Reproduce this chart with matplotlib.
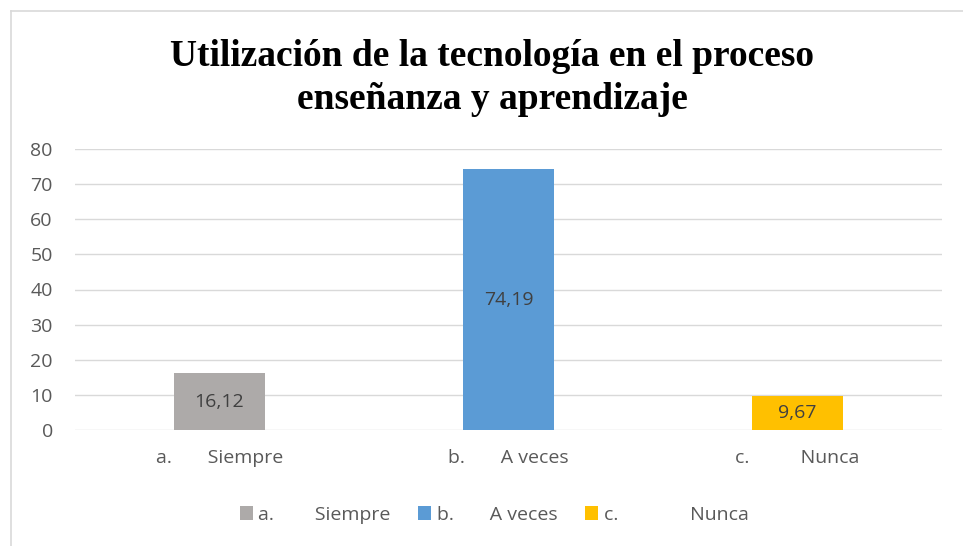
import matplotlib
matplotlib.use("Agg")
import matplotlib.pyplot as plt
from matplotlib.patches import Patch
from matplotlib.lines import Line2D

# Data
categories = ["a.       Siempre", "b.       A veces", "c.          Nunca"]
legend_labels = ["a.        Siempre", "b.       A veces", "c.              Nunca"]
values = [16.12, 74.19, 9.67]
value_labels = ["16,12", "74,19", "9,67"]
colors = ["#ADAAA9", "#5B9BD5", "#FFC000"]
yticks = [0, 10, 20, 30, 40, 50, 60, 70, 80]
title = "Utilización de la tecnología en el proceso\nenseñanza y aprendizaje"

W, H = 963, 546
fig = plt.figure(figsize=(W / 100, H / 100), dpi=100)
fig.patch.set_facecolor("white")

txt_color = "#595959"
grid_color = "#D9D9D9"
font = "Open Sans"
fs = 14

ax = fig.add_axes([75 / W, 1 - 430 / H, (942 - 75) / W, (430 - 149) / H])
x = list(range(len(categories)))
bars = ax.bar(x, values, width=0.315, color=colors, zorder=3)
ax.set_xlim(-0.5, len(categories) - 0.5)
ax.set_ylim(0, 80)
ax.set_yticks(yticks)
ax.set_yticklabels([str(t) for t in yticks], fontfamily=font, fontsize=fs, color=txt_color)
ax.set_xticks(x)
ax.set_xticklabels(categories, fontfamily=font, fontsize=fs, color=txt_color)
ax.tick_params(axis="both", length=0)
ax.tick_params(axis="y", pad=16)
ax.tick_params(axis="x", pad=14)
ax.grid(axis="y", color=grid_color, linewidth=1, zorder=0)
for s in ax.spines.values():
    s.set_visible(False)

for b, lab in zip(bars, value_labels):
    ax.text(b.get_x() + b.get_width() / 2, b.get_height() / 2, lab,
            ha="center", va="center", fontfamily=font, fontsize=fs,
            color="#404040", zorder=4)

# Title
fig.text(492 / W, 1 - 78 / H, title, ha="center", va="center",
         fontfamily="Liberation Serif", fontweight="bold", fontsize=27,
         linespacing=1.3, color="black")

# Legend
handles = [Patch(facecolor=c, edgecolor="none") for c in colors]
leg = fig.legend(handles, legend_labels, loc="center", ncol=3,
                 bbox_to_anchor=(494 / W, 1 - 515 / H), frameon=False,
                 prop={"family": font, "size": fs}, handlelength=0.67,
                 handleheight=0.72, handletextpad=0.3, columnspacing=1.4)
for t in leg.get_texts():
    t.set_color(txt_color)

# Chart area border (top and left visible)
fig.add_artist(Line2D([10.5 / W, 1], [1 - 10.5 / H, 1 - 10.5 / H], transform=fig.transFigure,
                      color=grid_color, linewidth=1.2))
fig.add_artist(Line2D([10.5 / W, 10.5 / W], [0, 1 - 10.5 / H], transform=fig.transFigure,
                      color=grid_color, linewidth=1.2))

fig.savefig("out.png", dpi=100)
